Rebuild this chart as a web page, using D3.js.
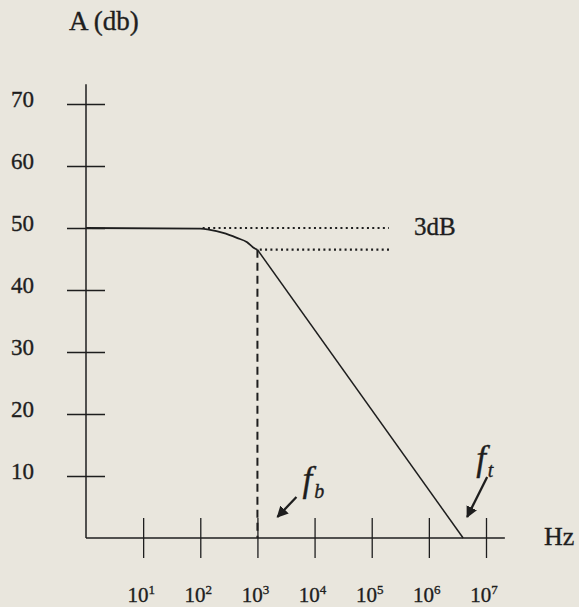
<!DOCTYPE html>
<html>
<head>
<meta charset="utf-8">
<script src="https://cdn.jsdelivr.net/npm/d3@7"></script>
<style>
html,body{margin:0;padding:0;background:#e9e6dd;}
svg{display:block;}
text{font-family:"Liberation Serif","Times New Roman",serif;fill:#1e1e1e;stroke:#1e1e1e;stroke-width:0.35px;}
</style>
</head>
<body>
<svg id="chart" width="579" height="607"></svg>
<script>
// ---- data ----
const yTicks = [10, 20, 30, 40, 50, 60, 70];
const xTickExps = [1, 2, 3, 4, 5, 6, 7];
const curveFreq = [1, 100, 148, 251, 437, 661, 832, 1000];
const curveDb   = [50, 49.9, 49.7, 49.2, 48.4, 47.7, 46.9, 46.5];
const slopeFreq = [1000, 3.98e6];
const slopeDb   = [46.5, 0];
const dotFreqStart = [110, 1100];
const dotFreqEnd   = [200000, 215000];
const dotDb        = [50, 46.5];
const fb = 1000;
const ft = 3.98e6;

// ---- layout ----
const svg = d3.select("#chart");
const x = d3.scaleLog().domain([1, 1e7]).range([86, 486]);
const y = d3.scaleLinear().domain([0, 70]).range([538, 104]);
const ink = "#1e1e1e";

// y axis
const yAxis = d3.axisLeft(y).tickValues(yTicks).tickSize(19).tickFormat(d3.format("d"));
const gy = svg.append("g").attr("transform", `translate(${x(1)},0)`).call(yAxis);
gy.select(".domain").remove();
gy.selectAll(".tick line").attr("x1", -19).attr("x2", 19).attr("stroke", ink).attr("stroke-width", 1.6);
gy.selectAll(".tick text").attr("x", -52).attr("dy", "0.1em")
  .style("font-size", "23px").style("font-family", "'Liberation Serif',serif").attr("fill", ink);
svg.append("line").attr("x1", x(1)).attr("x2", x(1)).attr("y1", y(73.2)).attr("y2", y(0))
  .attr("stroke", ink).attr("stroke-width", 1.5);

// x axis
const xAxis = d3.axisBottom(x).tickValues(xTickExps.map(e => Math.pow(10, e))).tickSize(20).tickFormat("");
const gx = svg.append("g").attr("transform", `translate(0,${y(0)})`).call(xAxis);
gx.select(".domain").remove();
gx.selectAll(".tick line").attr("y1", -20).attr("y2", 20).attr("stroke", ink).attr("stroke-width", 1.3);
svg.append("line").attr("x1", x(1)).attr("x2", x(Math.pow(10, 7.33))).attr("y1", y(0)).attr("y2", y(0))
  .attr("stroke", ink).attr("stroke-width", 1.6);

// x tick labels with superscripts
const xl = svg.append("g");
xTickExps.forEach(e => {
  const t = xl.append("text").attr("x", x(Math.pow(10, e)) - 2).attr("y", 602)
    .attr("text-anchor", "middle").style("font-size", "21px");
  t.append("tspan").text("10");
  t.append("tspan").attr("dy", -8).style("font-size", "13px").text(e);
});

// axis titles
svg.append("text").attr("x", 69).attr("y", 30).style("font-size", "27px").text("A (db)");
svg.append("text").attr("x", 544).attr("y", 545).style("font-size", "26px").text("Hz");

// dotted 3dB lines
dotDb.forEach((d, i) => {
  svg.append("line").attr("x1", x(dotFreqStart[i])).attr("x2", x(dotFreqEnd[i]))
    .attr("y1", y(d)).attr("y2", y(d)).attr("stroke", ink).attr("stroke-width", 2.2)
    .attr("stroke-dasharray", "2,3.3");
});
svg.append("text").attr("x", 414).attr("y", 235).style("font-size", "25px").text("3dB");

// dashed vertical at fb
svg.append("line").attr("x1", x(fb)).attr("x2", x(fb)).attr("y1", y(46.5)).attr("y2", y(0))
  .attr("stroke", ink).attr("stroke-width", 2).attr("stroke-dasharray", "8,5");

// response curve
svg.append("path").datum(curveFreq.map((f, i) => [f, curveDb[i]]))
  .attr("d", d3.line().x(d => x(d[0])).y(d => y(d[1])).curve(d3.curveMonotoneX))
  .attr("fill", "none").attr("stroke", ink).attr("stroke-width", 1.8);
svg.append("path").datum(slopeFreq.map((f, i) => [f, slopeDb[i]]))
  .attr("d", d3.line().x(d => x(d[0])).y(d => y(d[1])))
  .attr("fill", "none").attr("stroke", ink).attr("stroke-width", 1.5);

// arrows
const defs = svg.append("defs");
defs.append("marker").attr("id", "ah").attr("viewBox", "0 0 10 10").attr("refX", 9).attr("refY", 5)
  .attr("markerWidth", 5).attr("markerHeight", 5).attr("markerUnits", "strokeWidth").attr("orient", "auto")
  .append("path").attr("d", "M0,0 L10,5 L0,10 Z").attr("fill", ink);

const xb = x(fb), xt = x(ft), y0 = y(0);
svg.append("line").attr("x1", xb + 39).attr("y1", y0 - 41).attr("x2", xb + 20).attr("y2", y0 - 21)
  .attr("stroke", ink).attr("stroke-width", 2.3).attr("marker-end", "url(#ah)");
svg.append("line").attr("x1", xt + 24).attr("y1", y0 - 61).attr("x2", xt + 4).attr("y2", y0 - 21)
  .attr("stroke", ink).attr("stroke-width", 2.3).attr("marker-end", "url(#ah)");

const tb = svg.append("text").attr("x", xb + 45).attr("y", 491)
  .style("font-size", "35px").style("font-style", "italic").style("font-family", "'Liberation Serif',serif");
tb.append("tspan").text("f");
tb.append("tspan").attr("dy", 7).attr("dx", 2).style("font-size", "20px").text("b");
const tt = svg.append("text").attr("x", xt + 13).attr("y", 470)
  .style("font-size", "35px").style("font-style", "italic").style("font-family", "'Liberation Serif',serif");
tt.append("tspan").text("f");
tt.append("tspan").attr("dy", 7).attr("dx", 2).style("font-size", "20px").text("t");
</script>
</body>
</html>
